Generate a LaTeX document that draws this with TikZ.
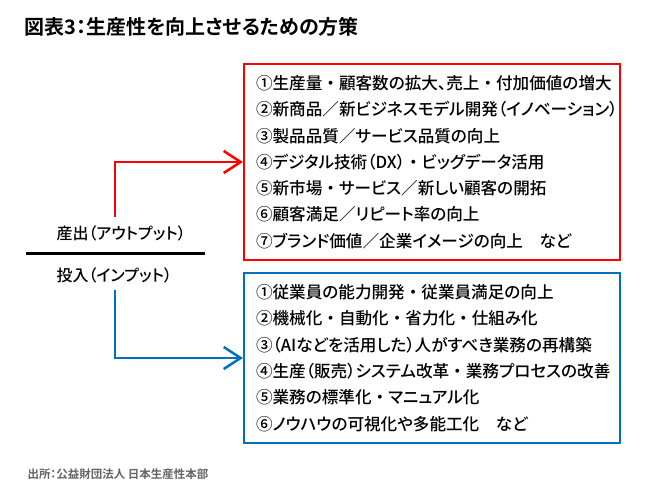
\documentclass[tikz,border=0pt]{standalone}
\usepackage{fontspec}
\setmainfont{Noto Sans CJK JP}[UprightFont=* Medium,BoldFont=* Bold,RawFeature=+palt]
\newfontfamily\widefont{Noto Sans CJK JP}[UprightFont=* Medium]
\newcommand{\nkg}{{\widefont ・}}
\usepackage{tikz}
\definecolor{outred}{RGB}{255,0,0}
\definecolor{inblue}{RGB}{0,112,192}
\definecolor{srcgray}{RGB}{100,100,100}
\usetikzlibrary{arrows.meta,positioning}

\begin{document}
\begin{tikzpicture}[x=1bp,y=-1bp,
    listbox/.style={draw,line width=2bp,text width=352bp,inner xsep=12bp,inner ysep=0pt,
        align=left,anchor=north west,font=\fontsize{16.6bp}{26.3bp}\selectfont},
    flow/.style={line width=2.5bp,-{Straight Barb[length=17bp,width=22bp,line width=2.5bp]}},
    lbl/.style={anchor=west,font=\fontsize{16bp}{18bp}\selectfont}]
        \useasboundingbox (0,0) rectangle (650,503);

        \node[anchor=west,font=\fontsize{20bp}{22bp}\selectfont\bfseries] (title) at (21,27)
            {図表3：生産性を向上させるための方策};

        \node[listbox,draw=outred,minimum height=196bp] (outbox) at (243,63) {%
            ①生産量\nkg 顧客数の拡大、売上\nkg 付加価値の増大\\
            ②新商品／新ビジネスモデル開発（イノベーション）\\
            ③製品品質／サービス品質の向上\\
            ④デジタル技術（DX）\nkg ビッグデータ活用\\
            ⑤新市場\nkg サービス／新しい顧客の開拓\\
            ⑥顧客満足／リピート率の向上\\
            ⑦ブランド価値／企業イメージの向上　など};
        \node[listbox,draw=inblue,minimum height=170bp] (inbox) at (243,272) {%
            ①従業員の能力開発\nkg 従業員満足の向上\\
            ②機械化\nkg 自動化\nkg 省力化\nkg 仕組み化\\
            ③（AIなどを活用した）人がすべき業務の再構築\\
            ④生産（販売）システム改革\nkg 業務プロセスの改善\\
            ⑤業務の標準化\nkg マニュアル化\\
            ⑥ノウハウの可視化や多能工化　など};

        \node[lbl] (output) at (53,233) {産出（アウトプット）};
        \node[lbl] (input) at (53,275) {投入（インプット）};
        \draw[line width=3bp] (26,253) -- (205,253);

        \coordinate (outstart) at (115,217);
        \coordinate (instart) at (115,290);
        \draw[flow,outred] (outstart) |- (outbox.west);
        \draw[flow,inblue] (instart) |- (inbox.west);

        \node[anchor=west,text=srcgray,font=\fontsize{11.5bp}{13bp}\selectfont\bfseries] (source) at (24,474)
            {出所：公益財団法人 日本生産性本部};
    \end{tikzpicture}
\end{document}
